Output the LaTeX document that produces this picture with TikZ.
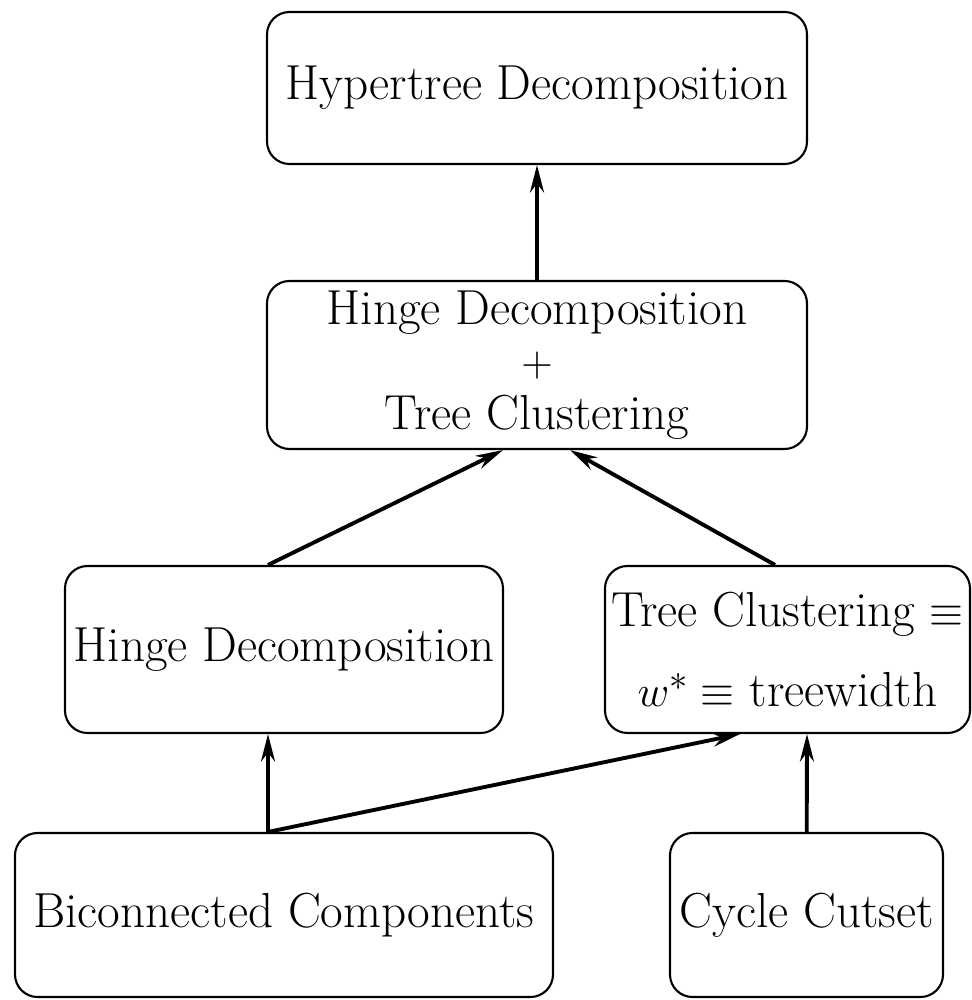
\documentclass[tikz,border=0pt]{standalone}
\usepackage{amsmath, amsfonts, amssymb}
\usetikzlibrary{arrows.meta}

\begin{document}
\begin{tikzpicture}[
  blk/.style = {draw, line width=1.2pt, rounded corners=0.45cm, align=center,
    inner sep=0pt, font=\fontsize{28}{34}\selectfont},
  arr/.style = {line width=2.2pt, -{Stealth[length=0.55cm, width=0.28cm]}}]
\useasboundingbox (0,0) rectangle (19.42,20);
\path (10.74,18.24) node[blk, minimum width=10.8cm, minimum height=3.04cm] (A) {Hypertree Decomposition};
\path (10.74,12.7) node[blk, minimum width=10.8cm, minimum height=3.36cm] (B) {Hinge Decomposition\\[-4pt]$+$\\[-4pt]Tree Clustering};
\path (5.68,7.01) node[blk, minimum width=8.76cm, minimum height=3.34cm] (C) {Hinge Decomposition};
\path (15.75,7.01) node[blk, minimum width=7.3cm, minimum height=3.34cm] (D) {Tree Clustering $\equiv$\\[11pt]$w^{*}\equiv$ treewidth};
\path (5.68,1.7) node[blk, minimum width=10.76cm, minimum height=3.28cm] (E) {Biconnected Components};
\path (16.13,1.7) node[blk, minimum width=5.46cm, minimum height=3.28cm] (F) {Cycle Cutset};
\draw[arr] (B) -- (A);
\draw[arr] ([xshift=-0.32cm]C.north) -- ([xshift=-0.68cm]B.south);
\draw[arr] ([xshift=-0.25cm]D.north) -- ([xshift=0.66cm]B.south);
\draw[arr] ([xshift=-0.32cm]E.north) -- ([xshift=-0.32cm]C.south);
\draw[arr] ([xshift=-0.32cm]E.north) -- ([xshift=-0.95cm]D.south);
\draw[arr] (F) -- ([xshift=0.39cm]D.south);
\end{tikzpicture}
\end{document}
